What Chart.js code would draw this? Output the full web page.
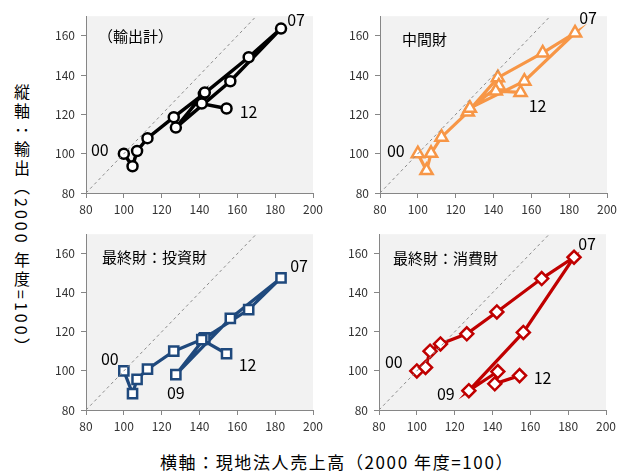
<!DOCTYPE html>
<html>
<head>
<meta charset="utf-8">
<script src="https://cdn.jsdelivr.net/npm/chart.js@4"></script>
<style>
  body { margin: 0; background: #fff; font-family: "Noto Sans CJK JP", sans-serif; }
  #wrap { position: relative; width: 633px; height: 471px; overflow: hidden; }
  .panel { position: absolute; }
  #ytitle { position: absolute; left: 10px; top: 84px; writing-mode: vertical-rl; text-orientation: mixed;
            font-size: 16px; letter-spacing: 3px; color: #000; }
  #xtitle { position: absolute; left: 0; width: 674px; top: 449px; text-align: center; font-size: 17px;
            color: #000; letter-spacing: 1.6px; }
</style>
</head>
<body>
<div id="wrap">
  <div class="panel" id="p1"><canvas id="c1"></canvas></div>
  <div class="panel" id="p2"><canvas id="c2"></canvas></div>
  <div class="panel" id="p3"><canvas id="c3"></canvas></div>
  <div class="panel" id="p4"><canvas id="c4"></canvas></div>
  <div id="ytitle">縦軸：輸出（2000 年度=100）</div>
  <div id="xtitle">横軸：現地法人売上高（2000 年度=100）</div>
</div>
<script>
// years 2000-2012
const years = ["00", "01", "02", "03", "04", "05", "06", "07", "08", "09", "10", "11", "12"];
// x: local subsidiary sales (2000 = 100)
const salesX = [100, 104.6, 107, 112.5, 126.4, 142.3, 166, 183.1, 156.3, 127.5, 142.8, 141.2, 154.3];
// y: exports (2000 = 100)
const exportTotal = [100, 93.6, 101.4, 107.9, 118.6, 130.5, 149.1, 163.7, 136.9, 113.3, 131.2, 125.5, 123];
const exportIntermediate = [100, 91.4, 100.2, 108.4, 121.2, 138.7, 151.3, 161.5, 136.9, 123.2, 134.5, 131.9, 131.2];
const exportInvestment = [100, 88.4, 95.7, 100.9, 110.1, 116.5, 131.4, 147.6, 126.9, 98.1, 117, 116, 108.8];
const exportConsumer = [100, 101.8, 110.1, 113.8, 119, 130.2, 147.3, 158.2, 119.7, 89.9, 99.7, 93.4, 97.6];

const xTicks = [80, 100, 120, 140, 160, 180, 200];
const yTicks = [80, 100, 120, 140, 160];
const diagonal = [80, 170];

const FONT = '"Noto Sans CJK JP", sans-serif';

const bgPlugin = {
  id: "bg",
  beforeDraw(chart) {
    const a = chart.chartArea, ctx = chart.ctx;
    ctx.save();
    ctx.fillStyle = "#f2f2f2";
    ctx.fillRect(a.left, a.top, a.right - a.left, a.bottom - a.top);
    ctx.restore();
  }
};

const textPlugin = {
  id: "texts",
  afterDatasetsDraw(chart, args, opts) {
    const ctx = chart.ctx, a = chart.chartArea;
    const pts = chart.getDatasetMeta(1).data;
    ctx.save();
    ctx.fillStyle = "#000";
    ctx.textBaseline = "middle";
    ctx.textAlign = "center";
    ctx.font = "16px " + FONT;
    opts.labels.forEach(l => {
      const p = pts[l.i];
      ctx.fillText(years[l.i], p.x + l.dx, p.y + l.dy);
    });
    ctx.textAlign = "left";
    ctx.font = "15px " + FONT;
    ctx.fillText(opts.title, a.left + opts.tx, a.top + opts.ty);
    ctx.restore();
  }
};

function panel(n, box, ys, color, style, radius, lw, title, tx, ty, labels) {
  const yw = 50, padT = 10, padR = 16, xh = 26;
  const div = document.getElementById("p" + n);
  div.style.left = (box.l - yw) + "px";
  div.style.top = (box.t - padT) + "px";
  div.style.width = (box.r - box.l + yw + padR) + "px";
  div.style.height = (box.b - box.t + padT + xh) + "px";

  const axisCommon = {
    type: "linear",
    grid: { drawOnChartArea: false, drawTicks: true, tickLength: 5, color: "#868686" },
    border: { color: "#868686", width: 1 },
    ticks: { font: { size: 12, family: FONT }, color: "#333", padding: 4 }
  };

  new Chart(document.getElementById("c" + n), {
    type: "line",
    data: {
      datasets: [
        {
          data: diagonal.map(v => ({ x: v, y: v })),
          borderColor: "#8c8c8c", borderWidth: 1, borderDash: [3, 3],
          pointRadius: 0
        },
        {
          data: salesX.map((x, i) => ({ x: x, y: ys[i] })),
          borderColor: color, borderWidth: lw,
          pointStyle: style, pointRadius: radius,
          pointBackgroundColor: "#fff", pointBorderColor: color, pointBorderWidth: 2.5,
          tension: 0
        }
      ]
    },
    options: {
      responsive: true,
      maintainAspectRatio: false,
      animation: false,
      events: [],
      layout: { padding: { top: padT, right: padR, left: 0, bottom: 0 } },
      plugins: {
        legend: { display: false },
        tooltip: { enabled: false },
        texts: { title: title, tx: tx, ty: ty, labels: labels }
      },
      scales: {
        x: Object.assign({}, axisCommon, {
          min: 80, max: 200,
          afterBuildTicks: s => { s.ticks = xTicks.map(v => ({ value: v })); },
          afterFit: s => { s.height = xh; }
        }),
        y: Object.assign({}, axisCommon, {
          min: 80, max: 170,
          afterBuildTicks: s => { s.ticks = yTicks.map(v => ({ value: v })); },
          afterFit: s => { s.width = yw; },
          ticks: { font: { size: 12, family: FONT }, color: "#333", padding: 6 }
        })
      }
    },
    plugins: [bgPlugin, textPlugin]
  });
}

panel(1, { l: 86, r: 313, t: 13, b: 193 }, exportTotal, "#000000", "circle", 5, 3.5,
  "（輸出計）", 12, 20,
  [{ i: 0, dx: -24, dy: -4 }, { i: 7, dx: 15, dy: -9 }, { i: 12, dx: 22, dy: 3 }]);
panel(2, { l: 380, r: 607, t: 13, b: 193 }, exportIntermediate, "#f79646", "triangle", 7, 3.2,
  "中間財", 22, 23,
  [{ i: 0, dx: -22, dy: -3 }, { i: 7, dx: 13, dy: -15 }, { i: 12, dx: 17, dy: 14 }]);
panel(3, { l: 86, r: 313, t: 231, b: 410 }, exportInvestment, "#1f497d", "rect", 6.5, 3.2,
  "最終財：投資財", 16, 23,
  [{ i: 0, dx: -14, dy: -12 }, { i: 7, dx: 18, dy: -12 }, { i: 9, dx: 0, dy: 18 }, { i: 12, dx: 21, dy: 11 }]);
panel(4, { l: 379, r: 606, t: 231, b: 410 }, exportConsumer, "#c00000", "rectRot", 6.5, 3.2,
  "最終財：消費財", 14, 24,
  [{ i: 0, dx: -23, dy: -9 }, { i: 7, dx: 13, dy: -13 }, { i: 9, dx: -23, dy: 3 }, { i: 12, dx: 23, dy: 2 }]);
</script>
</body>
</html>
